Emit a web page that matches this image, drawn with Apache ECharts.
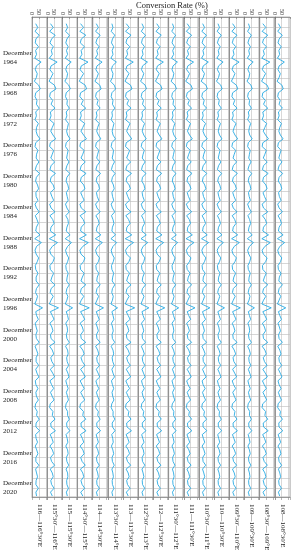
<!DOCTYPE html>
<html><head><meta charset="utf-8">
<script src="https://cdn.jsdelivr.net/npm/echarts@6/dist/echarts.min.js"></script>
<style>html,body{margin:0;padding:0;background:#fff}#c{width:294px;height:550px}</style>
</head><body><div id="c"></div><script>
const years = [1960,1961,1962,1963,1964,1965,1966,1967,1968,1969,1970,1971,1972,1973,1974,1975,1976,1977,1978,1979,1980,1981,1982,1983,1984,1985,1986,1987,1988,1989,1990,1991,1992,1993,1994,1995,1996,1997,1998,1999,2000,2001,2002,2003,2004,2005,2006,2007,2008,2009,2010,2011,2012,2013,2014,2015,2016,2017,2018,2019,2020,2021];
const sampleMonths = [6, 12];
const yearTicks = [1964,1968,1972,1976,1980,1984,1988,1992,1996,2000,2004,2008,2012,2016,2020];
const rateTicks = [0,50,100];
const bands = ['116—116°30′E','115°30′—116°E','115—115°30′E','114°30′—115°E','114—114°30′E','113°30′—114°E','113—113°30′E','112°30′—113°E','112—112°30′E','111°30′—112°E','111—111°30′E','110°30′—111°E','110—110°30′E','109°30′—110°E','109—109°30′E','108°30′—109°E','108—108°30′E'];

const r116_1165 = [27,42,22,52,28,24,47,26,33,20,66,32,24,38,32,17,48,60,27,22,36,32,52,27,32,22,46,33,30,38,58,27,22,43,33,30,50,32,24,55,32,26,40,48,28,30,43,22,32,52,24,36,46,32,27,58,20,68,33,22,30,48,38,24,27,43,30,30,52,32,26,40,32,20,76,27,33,46,24,30,38,28,32,52,22,33,43,30,30,48,27,36,50,24,28,43,28,32,46,26,22,38,33,52,30,28,55,26,30,40,24,34,43,28,28,50,26,33,40,30,28,46,28,33];
const r1155_116 = [24,44,18,58,32,20,44,30,37,16,72,28,20,42,28,14,52,64,23,18,40,28,57,23,28,18,50,37,26,42,62,23,18,47,37,26,54,28,20,60,28,22,44,52,24,34,47,18,28,57,20,40,50,28,23,62,16,75,37,18,26,52,42,20,23,47,34,26,57,28,22,44,28,16,82,23,37,50,20,34,42,24,28,57,18,37,47,26,34,52,23,40,54,20,32,47,24,36,50,22,18,42,37,57,26,28,60,22,34,44,20,38,47,24,32,54,22,37,44,26,32,50,24,37];
const r115_1155 = [28,38,23,52,33,25,42,30,38,21,64,33,25,38,33,18,46,58,28,23,36,33,50,28,33,23,44,38,31,38,56,28,23,42,36,31,48,33,25,54,33,27,40,46,29,35,42,23,33,50,25,40,44,33,28,56,21,66,38,23,31,46,38,25,28,42,35,31,50,33,27,40,33,21,74,28,38,44,25,35,38,29,33,50,23,38,42,31,35,46,28,40,48,25,33,42,29,37,44,27,23,38,38,50,31,33,54,27,35,40,25,38,42,29,33,46,27,38,40,31,33,44,29,36];
const r1145_115 = [22,44,17,60,27,20,50,26,32,16,76,27,19,44,27,13,55,66,22,17,41,27,60,22,27,17,52,38,25,44,65,22,17,48,38,25,56,27,19,62,27,21,45,54,23,35,48,17,27,60,19,41,52,27,22,64,15,78,38,17,25,54,43,19,22,48,35,25,60,27,21,45,27,15,85,22,38,52,19,35,43,23,27,60,17,38,48,25,35,54,22,41,56,19,33,48,23,37,52,21,17,43,38,60,25,27,62,21,35,45,19,39,48,23,33,56,21,38,45,25,33,52,23,38];
const r114_1145 = [26,41,21,54,31,23,46,29,36,19,68,31,23,41,31,16,51,61,26,21,39,31,54,26,31,21,47,36,29,41,59,26,21,44,36,29,51,31,23,57,31,25,43,49,27,33,44,21,31,54,23,39,47,31,26,59,19,70,36,21,29,49,41,23,26,44,33,29,54,31,25,43,31,19,78,26,36,47,23,33,41,27,31,54,21,36,44,29,33,49,26,39,51,23,31,44,27,35,47,25,21,41,36,54,29,31,57,25,33,41,23,37,43,27,31,47,27,36,41,29,31,48,27,34];
const r1135_114 = [29,37,24,50,33,26,42,31,37,22,62,33,26,37,33,19,46,56,29,24,37,33,50,29,33,24,44,37,31,37,55,29,24,41,37,31,48,33,26,52,33,27,40,46,29,34,42,24,33,50,26,37,44,33,29,55,22,64,37,24,31,46,39,26,29,42,35,31,50,33,28,39,33,22,70,29,37,44,26,34,39,30,33,50,24,37,42,31,35,46,29,37,48,26,33,42,30,35,44,28,24,38,37,50,31,33,52,28,35,39,26,36,42,30,33,46,29,36,40,31,33,44,29,35];
const r113_1135 = [23,45,18,58,28,21,49,27,33,17,74,28,20,43,28,14,54,65,23,18,40,28,58,23,28,18,51,37,26,43,63,23,18,48,37,26,55,28,20,61,28,22,44,53,24,34,47,18,28,58,20,40,51,28,23,63,16,76,37,18,26,53,42,20,23,47,34,26,58,28,22,44,28,16,84,23,37,51,20,34,42,24,28,58,18,37,47,26,34,53,23,40,55,20,32,47,24,36,51,22,18,42,37,58,26,28,61,22,34,44,20,38,47,24,32,55,22,37,44,26,32,51,24,37];
const r1125_113 = [27,40,22,53,30,24,45,29,35,20,67,31,24,40,31,17,50,60,27,22,38,31,53,27,31,22,46,35,29,40,58,27,22,44,35,29,50,31,24,56,31,26,42,48,28,33,44,22,31,53,24,38,46,31,27,58,20,69,35,22,29,48,40,24,27,44,33,29,53,31,25,42,31,20,77,27,35,46,24,33,40,28,31,53,22,35,44,29,33,48,27,38,50,24,31,44,28,34,46,25,22,40,35,53,29,31,56,25,33,42,24,37,42,28,31,48,27,35,41,29,31,47,27,35];
const r112_1125 = [24,43,19,57,29,22,48,28,34,17,72,29,21,42,29,15,52,63,24,19,40,29,57,24,29,19,50,37,27,42,62,24,19,47,37,27,54,29,21,60,29,23,44,52,25,34,47,19,29,57,21,40,50,29,24,62,17,74,37,19,27,52,42,21,24,47,34,27,57,29,23,44,29,17,82,24,37,50,21,34,42,25,29,57,19,37,47,27,34,52,24,40,54,21,32,47,25,36,50,23,19,42,37,57,27,29,60,23,34,44,21,38,46,25,32,54,23,37,44,27,32,50,25,36];
const r1115_112 = [28,38,23,51,32,25,43,30,37,21,64,32,25,38,32,18,47,57,28,23,36,32,51,28,32,23,45,36,30,38,56,28,23,42,36,30,48,32,25,53,32,27,40,47,29,34,43,23,32,51,25,38,45,32,28,56,21,66,36,23,30,47,38,25,28,42,34,30,51,32,27,40,32,21,73,28,36,45,25,34,38,29,32,51,23,36,43,30,34,47,28,38,48,25,32,42,29,35,45,27,23,38,36,51,30,32,54,27,34,40,25,36,42,29,32,46,28,36,40,30,32,45,28,35];
const r111_1115 = [25,44,19,57,30,21,47,27,35,17,71,29,21,42,30,14,52,63,25,19,40,29,57,24,30,19,49,37,27,42,62,24,19,47,36,27,54,29,21,60,29,23,43,52,25,34,46,19,30,57,21,40,49,29,25,62,17,74,36,19,27,52,41,21,25,46,33,27,57,29,23,43,30,17,81,25,36,50,21,33,41,25,30,57,19,36,46,27,33,52,25,40,54,21,31,46,25,35,49,23,19,41,36,57,27,29,59,23,33,43,21,37,46,25,31,53,23,36,43,27,31,50,25,36];
const r1105_111 = [27,41,21,54,31,23,46,29,35,19,68,31,23,40,31,16,51,61,26,21,38,31,55,26,31,21,48,35,29,40,60,26,21,45,35,29,52,31,23,57,31,25,42,50,27,33,45,21,31,55,23,38,48,31,26,60,19,70,35,21,29,50,40,23,26,45,32,29,55,31,25,42,31,19,79,26,35,48,23,33,40,27,31,55,21,35,45,29,32,50,26,38,52,23,30,45,26,35,48,24,21,40,35,55,29,30,57,24,32,42,23,36,44,27,30,49,26,35,42,28,30,48,26,35];
const r110_1105 = [28,39,22,52,32,24,44,30,36,20,65,32,24,39,32,17,48,58,27,22,37,32,52,27,32,22,46,36,30,39,57,27,22,43,36,30,49,32,24,55,32,26,41,48,28,34,44,22,32,52,24,38,46,32,27,57,20,67,36,22,30,48,39,24,27,43,33,30,52,32,26,41,32,20,75,27,36,46,24,34,39,28,32,52,22,36,44,30,33,48,27,39,50,24,31,43,28,35,46,26,22,39,36,52,30,31,55,26,33,41,24,37,43,28,31,47,27,36,41,29,31,47,27,35];
const r1095_110 = [24,43,19,56,29,22,47,28,34,18,71,29,21,41,29,15,51,62,24,19,39,29,56,24,29,19,49,36,27,41,61,24,19,46,36,27,53,29,21,59,29,23,43,51,25,34,46,19,29,56,21,39,49,29,24,61,17,73,36,19,27,51,41,21,24,46,33,27,56,29,23,43,29,17,80,24,36,49,21,33,41,25,29,56,19,36,46,27,33,51,24,39,53,21,31,46,25,36,49,23,19,41,36,56,27,29,59,23,33,43,21,37,46,25,31,53,23,36,43,27,31,49,25,36];
const r109_1095 = [29,38,23,50,33,25,43,31,37,21,63,33,25,38,33,18,47,56,28,23,37,33,50,28,33,23,45,36,31,38,56,28,23,42,36,31,48,33,25,53,33,27,40,46,29,34,43,23,33,50,25,37,45,33,28,56,21,65,36,23,31,46,38,25,28,42,34,31,50,33,27,40,33,21,72,28,36,45,25,34,38,29,33,50,23,36,43,31,34,46,28,38,48,25,32,42,29,35,45,27,23,38,36,50,31,32,53,27,34,40,25,36,42,29,32,46,28,36,40,30,32,45,28,35];
const r1085_109 = [23,45,18,59,28,21,49,27,34,16,74,28,20,43,28,14,54,66,23,18,41,28,59,23,28,18,51,38,26,43,64,23,18,48,38,26,55,28,20,62,28,22,45,54,24,35,48,18,28,59,20,41,51,28,23,64,16,77,38,18,26,54,43,20,23,48,35,26,59,28,22,45,28,16,84,23,38,51,20,35,43,24,28,59,18,38,48,26,35,54,23,41,56,20,33,48,24,37,51,22,18,43,38,59,26,28,62,22,35,45,20,39,48,24,33,56,22,38,45,26,33,52,24,38];
const r108_1085 = [26,41,21,54,31,23,46,29,35,19,69,31,23,40,31,16,51,61,26,21,39,31,55,26,31,21,48,36,29,40,60,26,21,45,36,29,52,31,23,57,31,25,43,50,27,33,45,21,31,55,23,39,48,31,26,60,19,71,36,21,29,50,41,23,26,45,33,29,55,31,25,43,31,19,79,26,36,48,23,33,41,27,31,55,21,36,45,29,33,50,26,39,52,23,31,45,26,35,48,24,21,41,36,55,29,30,58,24,33,42,23,37,44,27,31,49,26,36,42,28,31,48,26,35];

const panels = [r116_1165,r1155_116,r115_1155,r1145_115,r114_1145,r1135_114,r113_1135,r1125_113,r112_1125,r1115_112,r111_1115,r1105_111,r110_1105,r1095_110,r109_1095,r1085_109,r108_1085];

const times = [];
years.forEach(y => sampleMonths.forEach(m => times.push(y + (m - 0.5) / 12)));

const chart = echarts.init(document.getElementById('c'), null, {renderer:'canvas'});
const L0 = 32, W = 258 / panels.length, TOP = 17, H = 480;
const serif = '"Liberation Serif", "Times New Roman", serif';
const grids = [], xAxes = [], yAxes = [], series = [], graphics = [];
panels.forEach((vals, i) => {
  grids.push({left: L0 + i * W, top: TOP, width: W, height: H, show: true, borderColor: '#888', borderWidth: 0.6});
  xAxes.push({type:'value', gridIndex:i, position:'top', min:0, max:110, interval:50,
    axisLine:{show:true, lineStyle:{color:'#777', width:0.6}},
    axisTick:{show:true, inside:true, length:2, lineStyle:{color:'#777', width:0.6}},
    axisLabel:{show:true, rotate:90, fontSize:6, margin:2, color:'#333', fontFamily:serif, showMaxLabel:false, customValues: rateTicks},
    splitLine:{show:true, lineStyle:{color:'#bdbdbd', width:0.6}}});
  xAxes.push({type:'value', gridIndex:i, position:'bottom', min:0, max:110, interval:50,
    axisLine:{show:true, lineStyle:{color:'#777', width:0.6}},
    axisTick:{show:true, length:3, lineStyle:{color:'#888', width:0.6}},
    axisLabel:{show:false}, splitLine:{show:false}});
  yAxes.push({type:'value', gridIndex:i, inverse:true, min:1959.59, max:2022.09, interval:4/3,
    axisLine:{show:true, lineStyle:{color:'#777', width:0.6}},
    axisTick:{show:false},
    axisLabel:{show: i === 0, fontSize:7, lineHeight:9, fontFamily:serif, color:'#222', align:'left', margin:29,
      customValues: yearTicks.map(y => y + 0.92),
      formatter: v => 'December\n' + Math.floor(v)},
    splitLine:{show:true, lineStyle:{color:'#c4c4c4', width:0.7}}});
  series.push({type:'line', xAxisIndex:2*i, yAxisIndex:i, showSymbol:false, silent:true,
    lineStyle:{color:'#28aae3', width:0.9},
    data: times.map((t, k) => [vals[k], t])});
  graphics.push({type:'text', x: L0 + (i + 0.5) * W, y: 504, rotation: -Math.PI / 2, silent:true,
    style:{text: bands[i], fontSize: 7, fontFamily: serif, fill:'#222', align:'left', verticalAlign:'middle'}});
});
chart.setOption({
  animation:false,
  title:{text:'Conversion Rate (%)', left:136, top:1, padding:0, textStyle:{fontSize:8.5, fontWeight:'normal', fontFamily:serif, color:'#222'}},
  grid:grids, xAxis:xAxes, yAxis:yAxes, series:series, graphic:graphics
});
</script></body></html>
